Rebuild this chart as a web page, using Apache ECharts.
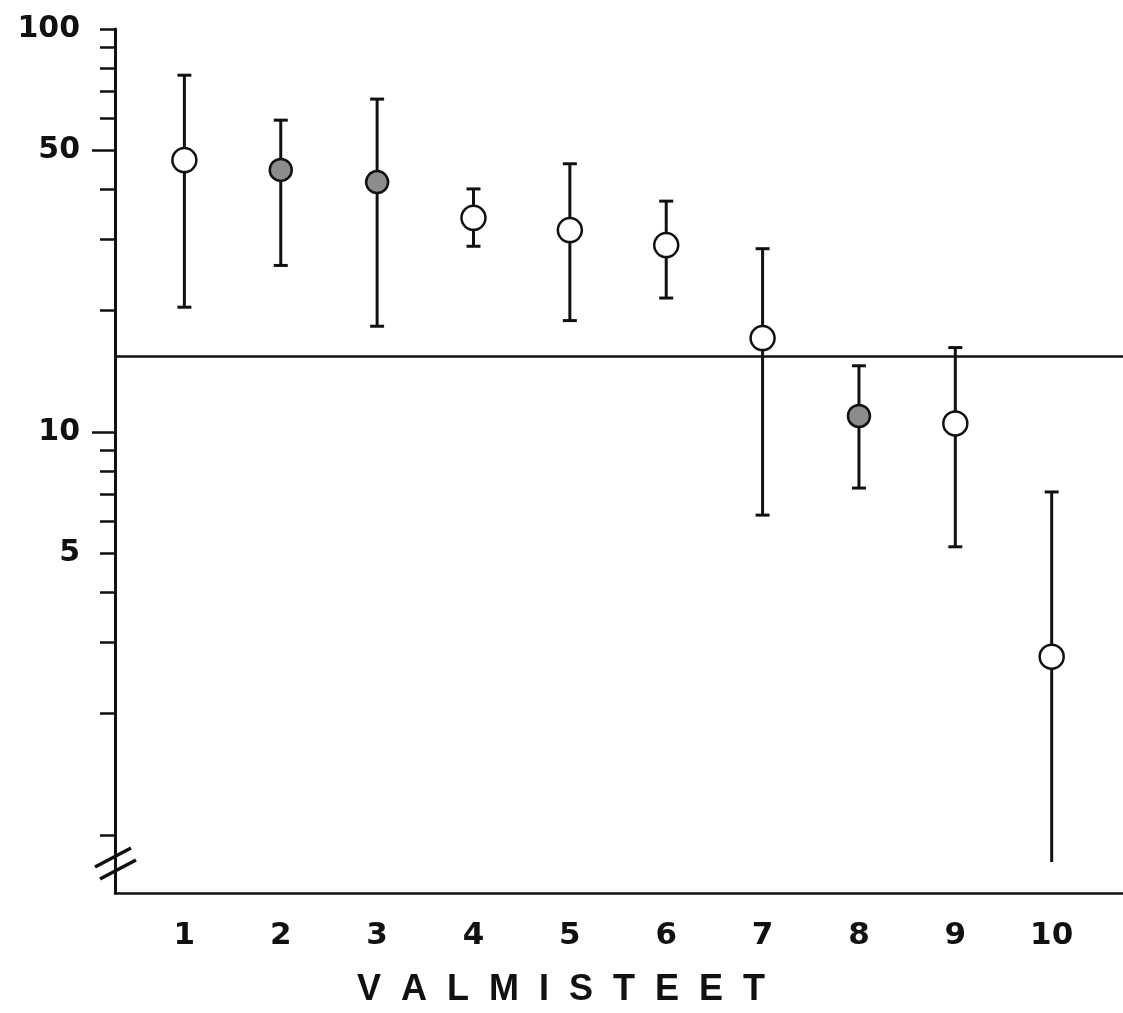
<!DOCTYPE html>
<html><head><meta charset="utf-8">
<script src="https://cdn.jsdelivr.net/npm/echarts@6/dist/echarts.min.js"></script>
<style>html,body{margin:0;padding:0;background:#fff}#c{width:1123px;height:1013px}</style>
</head><body><div id="c"></div>
<script>
// ---- data ----
const categories = [1, 2, 3, 4, 5, 6, 7, 8, 9, 10];
const means = [47.3, 44.7, 41.7, 34.0, 31.7, 29.1, 17.1, 10.96, 10.5, 2.77];
const lows  = [20.4, 25.9, 18.3, 28.9, 18.9, 21.5, 6.22, 7.26, 5.19, 0.857];
const highs = [76.8, 59.4, 67.0, 40.1, 46.3, 37.4, 28.5, 14.6, 16.2, 7.10];
const filled = [false, true, true, false, false, false, false, true, false, false];
const referenceLevel = 15.4;
const yLabelValues = [5, 10, 50, 100];
const yMajorTicks = [10, 50];
const yMinorTicks = [1, 2, 3, 4, 5, 6, 7, 8, 9, 20, 30, 40, 60, 70, 80, 90, 100];
const xAxisTitle = 'V  A  L  M  I  S  T  E  E  T';

// ---- build ----
const INK = '#111';
const FONT = '"DejaVu Sans", Verdana, sans-serif';
const TFONT = '"Liberation Sans", Arial, sans-serif';
const barData = categories.map((c, i) => [c, lows[i], highs[i]]);
const openPts = [], fillPts = [];
categories.forEach((c, i) => (filled[i] ? fillPts : openPts).push([c, means[i]]));

const chart = echarts.init(document.getElementById('c'), null, {renderer: 'canvas'});
chart.setOption({
  backgroundColor: '#fff',
  animation: false,
  grid: {left: 115, right: 0, top: 29, bottom: 120, containLabel: false, outerBoundsMode: 'none'},
  xAxis: {
    type: 'value', min: 0.28, max: 10.74,
    axisLine: {show: true, onZero: false, lineStyle: {color: INK, width: 2.5}},
    axisTick: {show: false},
    splitLine: {show: false},
    axisLabel: {
      customValues: categories, margin: 27,
      fontFamily: FONT, fontWeight: 'bold', fontSize: 31, color: INK
    }
  },
  yAxis: [{
    type: 'log', logBase: 10, min: 0.718, max: 100,
    axisLine: {show: true, lineStyle: {color: INK, width: 3}},
    axisTick: {show: true, customValues: yMinorTicks, length: 15, lineStyle: {color: INK, width: 2.5}},
    axisLabel: {
      customValues: yLabelValues, margin: 35,
      fontFamily: FONT, fontWeight: 'bold', fontSize: 30, color: INK
    },
    splitLine: {show: false}, minorTick: {show: false}
  }, {
    type: 'log', logBase: 10, min: 0.718, max: 100, position: 'left',
    axisLine: {show: false},
    axisTick: {show: true, customValues: yMajorTicks, length: 23, lineStyle: {color: INK, width: 2.5}},
    axisLabel: {show: false},
    splitLine: {show: false}
  }],
  series: [{
    type: 'custom',
    data: barData,
    z: 2,
    markLine: {
      silent: true, symbol: ['none', 'none'],
      label: {show: false},
      lineStyle: {color: INK, width: 2.5, type: 'solid'},
      data: [{yAxis: referenceLevel}]
    },
    renderItem: function (params, api) {
      const x = api.value(0), lo = api.value(1), hi = api.value(2);
      const pT = api.coord([x, hi]), pB = api.coord([x, lo]);
      const cap = 7;
      const st = {stroke: INK, lineWidth: 3};
      const ch = [
        {type: 'line', shape: {x1: pT[0], y1: pT[1], x2: pB[0], y2: pB[1]}, style: st},
        {type: 'line', shape: {x1: pT[0] - cap, y1: pT[1], x2: pT[0] + cap, y2: pT[1]}, style: st}
      ];
      // no cap where the bar runs into the axis break (below 1)
      if (lo >= 1) ch.push({type: 'line', shape: {x1: pB[0] - cap, y1: pB[1], x2: pB[0] + cap, y2: pB[1]}, style: st});
      return {type: 'group', children: ch};
    }
  }, {
    type: 'scatter', data: openPts, z: 5, symbol: 'circle', symbolSize: 24,
    itemStyle: {color: '#fff', borderColor: INK, borderWidth: 2.5, opacity: 1}
  }, {
    type: 'scatter', data: fillPts, z: 5, symbol: 'circle', symbolSize: 22,
    itemStyle: {color: '#8c8c8c', borderColor: INK, borderWidth: 2.5, opacity: 1}
  }],
  graphic: [
    {type: 'line', z: 100, shape: {x1: 95, y1: 867, x2: 131, y2: 848}, style: {stroke: INK, lineWidth: 3.5}},
    {type: 'line', z: 100, shape: {x1: 100, y1: 879, x2: 136, y2: 860}, style: {stroke: INK, lineWidth: 3.5}},
    {type: 'text', z: 100, x: 561, y: 990,
      style: {text: xAxisTitle, fill: INK, fontFamily: TFONT, fontWeight: 'bold', fontSize: 36, align: 'center', verticalAlign: 'middle'}}
  ]
});
</script>
</body></html>
